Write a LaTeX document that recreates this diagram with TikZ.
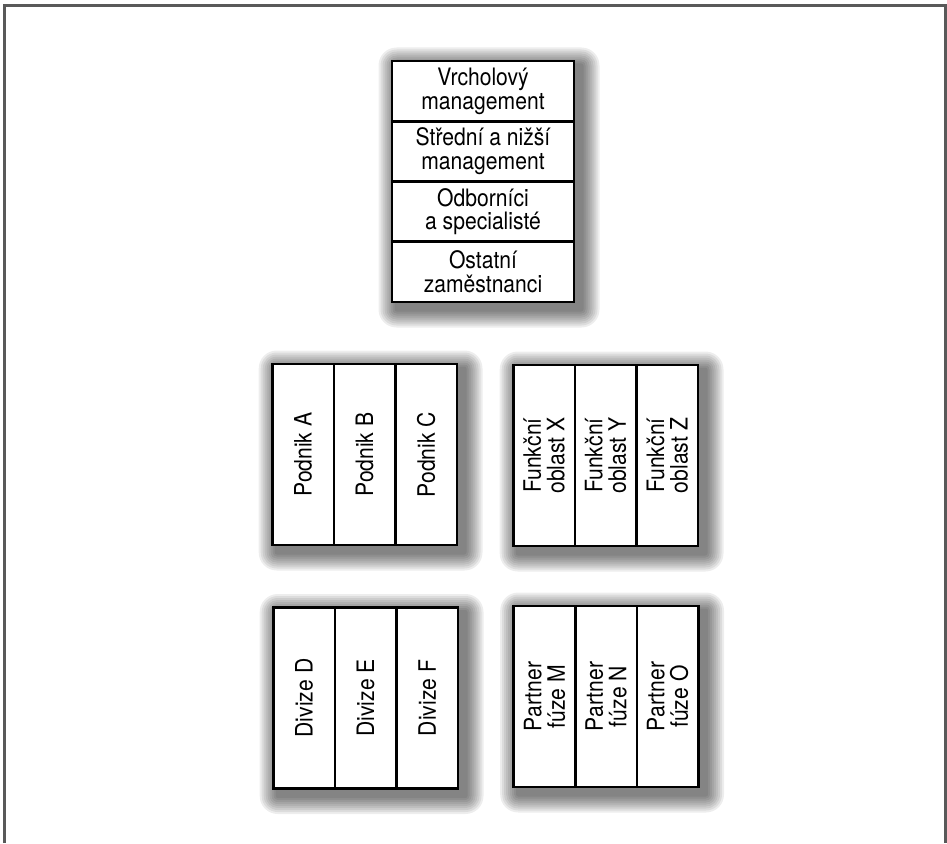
\documentclass[tikz,border=0pt]{standalone}
\usepackage{fontspec}
\setmainfont{TeX Gyre Heros}[FakeStretch=0.88]
\usetikzlibrary{calc,fit,backgrounds}
\tikzset{
  cell/.style={draw, line width=2.6pt, fill=white, inner sep=0pt, align=center,
    font=\fontsize{24}{23.5}\selectfont},
  rowcell/.style={cell, minimum width=182pt, minimum height=60.25pt},
  colcell/.style={cell, rotate=90, minimum width=181pt, minimum height=61.6pt},
  frame/.style={draw=black!65, line width=3pt},
}
\begin{document}
\begin{tikzpicture}[x=1pt, y=-1pt]
    \useasboundingbox (0,0) rectangle (947,843);
    \draw[frame] (4,843) -- (4,6) -- (945,6) -- (945,843);
    \foreach \t [count=\i] in {Vrcholový\\management, Střední a nižší\\management,
        Odborníci\\a specialisté, Ostatní\\zaměstnanci}
        \node[rowcell] (top\i) at (483, {30.875+60.25*\i}) {\t};
    \foreach \t [count=\i] in {Podnik A, Podnik B, Podnik C}
        \node[colcell] (pod\i) at ({241.4+61.6*\i}, 454.5) {\t};
    \foreach \t [count=\i] in {Funkční\\oblast X, Funkční\\oblast Y, Funkční\\oblast Z}
        \node[colcell] (fun\i) at ({482.4+61.6*\i}, 455.5) {\t};
    \foreach \t [count=\i] in {Divize D, Divize E, Divize F}
        \node[colcell] (div\i) at ({242.4+61.6*\i}, 698) {\t};
    \foreach \t [count=\i] in {Partner\\fúze M, Partner\\fúze N, Partner\\fúze O}
        \node[colcell] (par\i) at ({482.9+61.6*\i}, 696.5) {\t};
    \begin{scope}[on background layer]
        \foreach \a/\b in {top1/top4, pod1/pod3, fun1/fun3, div1/div3, par1/par3} {
            \node[fit=(\a)(\b), inner sep=0pt] (grp) {};
            \foreach \r in {2,4,...,18}
                \fill[black, fill opacity=0.07, rounded corners=\r pt]
                    ($(grp.north west)+(6-\r,6-\r)$) rectangle ($(grp.south east)+(6+\r,6+\r)$);
        }
    \end{scope}
\end{tikzpicture}
\end{document}
